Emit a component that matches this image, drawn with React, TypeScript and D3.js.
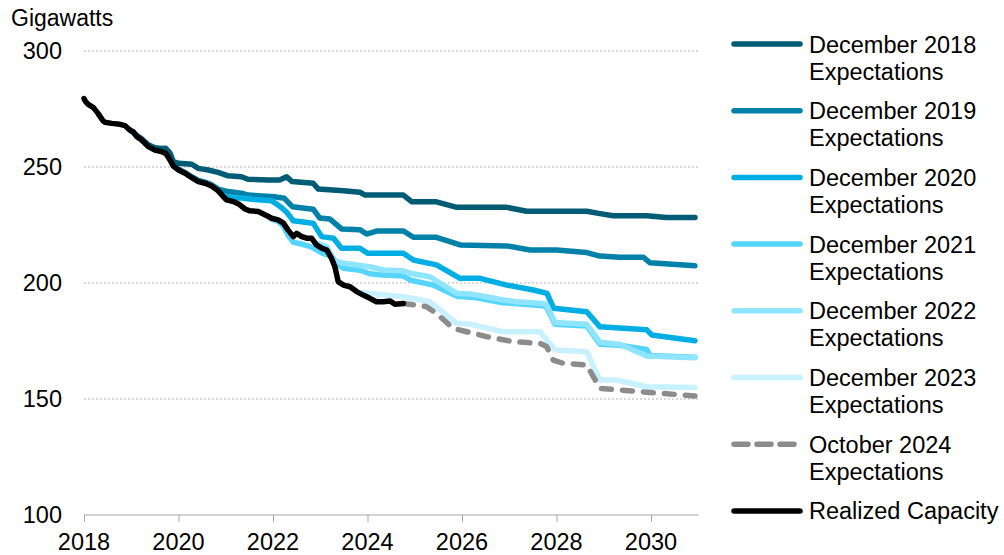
import React, { useRef, useEffect } from "react";
import * as d3 from "d3";

type Pt = [number, number];

// capacity in gigawatts, x in decimal years
const realized: Pt[] = [
  [2018.0, 279.5], [2018.03, 278.3], [2018.09, 277], [2018.2, 275.6], [2018.3, 273],
  [2018.4, 270], [2018.44, 269.3], [2018.59, 268.8], [2018.76, 268.4], [2018.87, 267.8],
  [2018.97, 265.9], [2019.04, 265.2], [2019.12, 263], [2019.22, 261.6], [2019.36, 258.8],
  [2019.5, 257.3], [2019.64, 256.6], [2019.73, 255.9], [2019.82, 253], [2019.89, 250.4],
  [2020.0, 248.7], [2020.14, 247.3], [2020.28, 245.4], [2020.42, 243.7], [2020.56, 243],
  [2020.7, 241.8], [2020.84, 239.7], [2020.95, 237.2], [2021.02, 235.8], [2021.16, 235.1],
  [2021.27, 234.1], [2021.41, 231.9], [2021.51, 231.1], [2021.69, 230.8], [2021.87, 229],
  [2021.97, 227.9], [2022.11, 227.2], [2022.22, 225.8], [2022.32, 222.8], [2022.43, 220],
  [2022.5, 221.4], [2022.61, 220], [2022.71, 219.3], [2022.82, 219.3], [2022.92, 216.4],
  [2023.03, 215], [2023.14, 214.2], [2023.24, 210.6], [2023.31, 207], [2023.38, 200.6],
  [2023.49, 199.1], [2023.63, 198.4], [2023.77, 196.3], [2023.91, 194.8], [2024.05, 193.4],
  [2024.19, 191.9], [2024.33, 191.9], [2024.48, 192.2], [2024.58, 190.8], [2024.76, 191.2],
];

const dec2018: Pt[] = [
  [2018.97, 266], [2019.12, 263.6], [2019.22, 262.2], [2019.36, 259.6], [2019.5, 258.3],
  [2019.64, 258], [2019.73, 258.1], [2019.82, 256], [2019.89, 252.3], [2020.0, 251.6],
  [2020.28, 251.2], [2020.42, 249.4], [2020.63, 248.7], [2020.84, 247.7], [2021.05, 246.2],
  [2021.33, 245.8], [2021.47, 244.7], [2021.89, 244.4], [2022.14, 244.4], [2022.29, 245.8],
  [2022.4, 243.7], [2022.85, 243], [2022.96, 240.5], [2023.49, 239.8], [2023.84, 239.1],
  [2023.95, 237.9], [2024.76, 237.9], [2024.94, 235], [2025.46, 235], [2025.89, 232.6],
  [2026.95, 232.6], [2027.37, 230.9], [2028.64, 230.9], [2028.92, 229.9], [2029.2, 229],
  [2029.91, 229], [2030.33, 228.2], [2030.93, 228.2],
];

const dec2019: Pt[] = [
  [2019.95, 249.6], [2020.14, 247.6], [2020.28, 245.8], [2020.42, 244.2], [2020.56, 243.5],
  [2020.7, 242.3], [2020.84, 240.5], [2021.05, 239.4], [2021.33, 238.7], [2021.47, 237.9],
  [2022.03, 237.2], [2022.24, 236.5], [2022.41, 232.9], [2022.85, 231.8], [2022.99, 228],
  [2023.2, 227.6], [2023.45, 223.3], [2023.84, 223], [2023.98, 221.1], [2024.19, 222.4],
  [2024.76, 222.4], [2024.97, 219.7], [2025.46, 219.7], [2025.96, 216.4], [2026.95, 216],
  [2027.44, 214.2], [2028.0, 214.2], [2028.64, 213.1], [2028.92, 211.6], [2029.34, 211.1],
  [2029.84, 211.1], [2029.98, 208.7], [2030.93, 207.4],
];

const dec2020: Pt[] = [
  [2020.95, 237.6], [2021.16, 236.6], [2021.34, 236.6], [2021.6, 236], [2021.97, 235.5],
  [2022.15, 233], [2022.29, 230.5], [2022.43, 226.8], [2022.85, 225.8], [2023.03, 220],
  [2023.28, 219.3], [2023.45, 215], [2023.84, 215], [2024.0, 212.8], [2024.76, 212.8],
  [2024.97, 209.9], [2025.46, 207.8], [2025.96, 202], [2026.38, 202], [2026.95, 199.1],
  [2027.51, 197], [2027.8, 195.5], [2027.94, 189.1], [2028.64, 187.6], [2028.92, 181.1],
  [2029.91, 179.8], [2030.02, 177.6], [2030.93, 175.1],
];

const dec2021: Pt[] = [
  [2021.97, 227.5], [2022.11, 226.5], [2022.22, 224.5], [2022.32, 220.5], [2022.43, 217.5],
  [2022.61, 216.8], [2022.82, 215.5], [2023.03, 213], [2023.24, 211.5], [2023.38, 208],
  [2023.49, 206.3], [2023.84, 205.5], [2024.05, 204], [2024.33, 203.4], [2024.76, 203],
  [2024.9, 201.3], [2025.39, 199.1], [2025.89, 194.3], [2026.24, 193.8], [2026.87, 191.5],
  [2027.72, 190.2], [2027.79, 189.5], [2027.97, 182.2], [2028.64, 181.5], [2028.92, 173.6],
  [2029.34, 173.2], [2029.91, 171.3], [2029.98, 168.8], [2030.93, 168],
];

const dec2022: Pt[] = [
  [2022.95, 217], [2023.14, 215.7], [2023.28, 209.9], [2023.49, 208.5], [2024.05, 207],
  [2024.33, 205.6], [2024.76, 205.3], [2024.9, 204.2], [2025.32, 202.7], [2025.89, 195.5],
  [2026.17, 195.3], [2026.52, 194.1], [2026.87, 192.7], [2027.16, 191.9], [2027.72, 191.2],
  [2027.79, 190.5], [2027.97, 183], [2028.64, 182.2], [2028.92, 174.5], [2029.34, 173.6],
  [2029.91, 168.5], [2030.93, 167.8],
];

const dec2023: Pt[] = [
  [2023.9, 196], [2024.05, 195.5], [2024.76, 194.1], [2025.32, 191.9], [2025.89, 182.6],
  [2026.17, 182.3], [2026.87, 179], [2027.65, 179], [2027.97, 171.1], [2028.64, 170.4],
  [2028.92, 158.2], [2029.27, 158.2], [2029.91, 155.3], [2030.93, 155],
];

const oct2024: Pt[] = [
  [2024.76, 191.2], [2025.25, 189.8], [2025.46, 186.9], [2025.81, 180.5], [2026.1, 179],
  [2026.52, 176.9], [2027.08, 174.7], [2027.65, 174], [2027.79, 172.6], [2027.93, 166.8],
  [2028.14, 165.4], [2028.64, 164.7], [2028.92, 154.6], [2029.34, 153.9], [2030.05, 152.7],
  [2030.93, 151.3],
];

const seriesNames = [
  ["December 2018", "Expectations"],
  ["December 2019", "Expectations"],
  ["December 2020", "Expectations"],
  ["December 2021", "Expectations"],
  ["December 2022", "Expectations"],
  ["December 2023", "Expectations"],
  ["October 2024", "Expectations"],
  ["Realized Capacity"],
];
const seriesData = [dec2018, dec2019, dec2020, dec2021, dec2022, dec2023, oct2024, realized];
const seriesColors = ["#005b74", "#0081a9", "#00aee4", "#55d4fc", "#8fe4ff", "#c8f1ff", "#8c8c8c", "#000000"];
const dashed = [false, false, false, false, false, false, true, false];

const yTicks = [100, 150, 200, 250, 300];
const xTicks = [2018, 2020, 2022, 2024, 2026, 2028, 2030];

const W = 1004;
const H = 555;
const FONT = "'Liberation Sans', Arial, sans-serif";

const App: React.FC = () => {
  const svgRef = useRef<SVGSVGElement | null>(null);

  useEffect(() => {
    const svg = d3.select(svgRef.current);
    svg.selectAll("*").remove();

    const x = d3.scaleLinear().domain([2018, 2031]).range([84, 698.25]);
    const y = d3.scaleLinear().domain([100, 300]).range([515, 51]);

    // grid
    svg.append("g")
      .selectAll("line")
      .data(yTicks.filter((d) => d > 100))
      .join("line")
      .attr("x1", x(2018))
      .attr("x2", x(2031))
      .attr("y1", (d) => y(d))
      .attr("y2", (d) => y(d))
      .attr("stroke", "#b3b3b3")
      .attr("stroke-width", 1)
      .attr("stroke-dasharray", "2,2");

    // x axis
    const xAxis = d3.axisBottom(x).tickValues(xTicks).tickSize(7).tickFormat(() => "");
    const gx = svg.append("g").attr("transform", `translate(0,${y(100)})`).call(xAxis);
    gx.select(".domain").attr("stroke", "#a6a6a6").attr("d", `M${x(2018)},0H${x(2031)}`);
    gx.selectAll(".tick line").attr("stroke", "#a6a6a6");

    svg.append("g")
      .selectAll("text")
      .data(xTicks)
      .join("text")
      .attr("x", (d) => x(d))
      .attr("y", 550)
      .attr("text-anchor", "middle")
      .attr("font-family", FONT)
      .attr("font-size", 23.5)
      .text((d) => String(d));

    svg.append("g")
      .selectAll("text")
      .data(yTicks)
      .join("text")
      .attr("x", 62)
      .attr("y", (d) => y(d) + 8)
      .attr("text-anchor", "end")
      .attr("font-family", FONT)
      .attr("font-size", 23.5)
      .text((d) => String(d));

    svg.append("text")
      .attr("x", 11)
      .attr("y", 26)
      .attr("font-family", FONT)
      .attr("font-size", 23)
      .text("Gigawatts");

    const line = d3.line<Pt>().x((d) => x(d[0])).y((d) => y(d[1]));

    seriesData.forEach((data, i) => {
      svg.append("path")
        .datum(data)
        .attr("d", line)
        .attr("fill", "none")
        .attr("stroke", seriesColors[i])
        .attr("stroke-width", 5.5)
        .attr("stroke-linejoin", "round")
        .attr("stroke-linecap", "round")
        .attr("stroke-dasharray", dashed[i] ? "10,11" : null);
    });

    // legend
    const lg = svg.append("g");
    seriesNames.forEach((names, i) => {
      const cy = 44 + i * 66.7;
      lg.append("line")
        .attr("x1", 734)
        .attr("x2", 800)
        .attr("y1", cy)
        .attr("y2", cy)
        .attr("stroke", seriesColors[i])
        .attr("stroke-width", 5.5)
        .attr("stroke-linecap", "round")
        .attr("stroke-dasharray", dashed[i] ? "14,9" : null);
      names.forEach((t, j) => {
        lg.append("text")
          .attr("x", 809)
          .attr("y", cy + 8.5 + j * 27)
          .attr("font-family", FONT)
          .attr("font-size", 23.5)
          .text(t);
      });
    });
  }, []);

  return (
    <svg
      ref={svgRef}
      width={W}
      height={H}
      style={{ position: "absolute", left: 0, top: 0, background: "#fff" }}
    />
  );
};

export default App;
